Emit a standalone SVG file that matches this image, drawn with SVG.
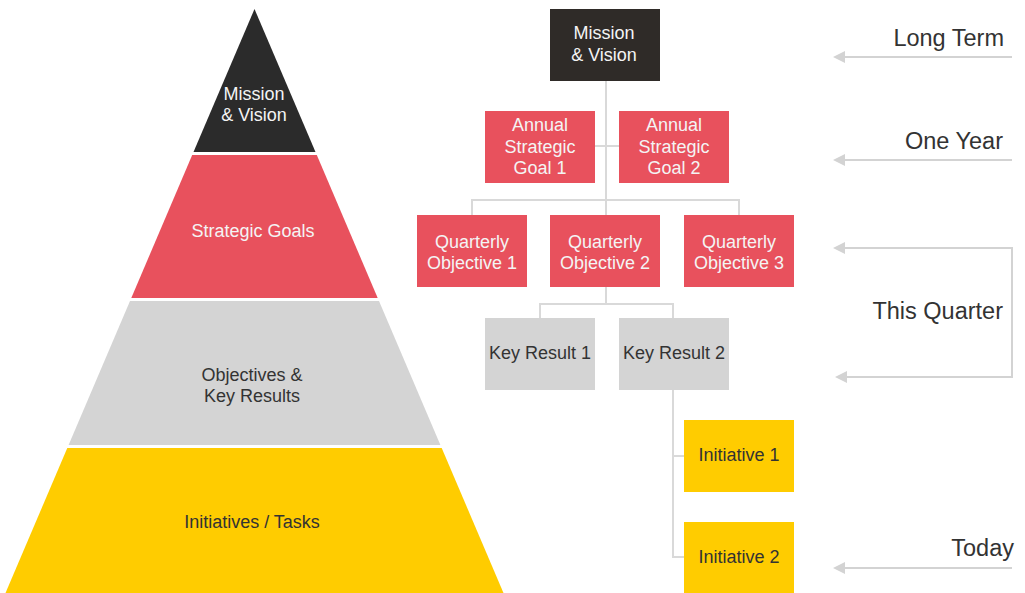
<svg xmlns="http://www.w3.org/2000/svg" width="1025" height="593" viewBox="0 0 1025 593">
  <style>
    text { font-family: "Liberation Sans", Arial, sans-serif; text-anchor: middle; dominant-baseline: central; }
    .lt { fill: #f4f4f4; font-size: 18px; }
    .dk { fill: #333333; font-size: 18px; }
    .bx { font-size: 18px; }
    .side { fill: #333333; font-size: 23.5px; text-anchor: end; }
    .red { fill: #e8515d; }
    .yel { fill: #ffcc00; }
    .gry { fill: #d4d4d4; }
    .conn { fill: none; stroke: #d9d9d9; stroke-width: 2; }
    .arr { fill: none; stroke: #d3d3d3; stroke-width: 2; }
  </style>
  <defs>
    <marker id="head" viewBox="0 0 12 12" refX="10" refY="6" markerWidth="12" markerHeight="12" markerUnits="userSpaceOnUse" orient="auto-start-reverse">
      <path d="M12,6 L0,0 L0,12 Z" fill="#d3d3d3"/>
    </marker>
  </defs>

  <!-- pyramid -->
  <g id="pyr-mission">
    <polygon points="254.5,9 315.5,152 193.5,152" fill="#2b2b2b"/>
    <text class="lt" x="254" y="94">Mission</text>
    <text class="lt" x="254" y="115">&amp; Vision</text>
  </g>
  <g id="pyr-goals">
    <polygon class="red" points="192.2,155 316.8,155 377.7,298 131.3,298"/>
    <text class="lt" x="253" y="231">Strategic Goals</text>
  </g>
  <g id="pyr-okr">
    <polygon class="gry" points="130,301 379,301 440.4,445 68.6,445"/>
    <text class="dk" x="252" y="375">Objectives &amp;</text>
    <text class="dk" x="252" y="396">Key Results</text>
  </g>
  <g id="pyr-tasks">
    <polygon class="yel" points="67.3,448 441.7,448 503.5,593 5.5,593"/>
    <text class="dk" x="252" y="522">Initiatives / Tasks</text>
  </g>

  <!-- tree connectors -->
  <g id="connectors">
    <path class="conn" d="M606,81 V215 M595,146 H619 M472,215 V200 H739 V215"/>
    <path class="conn" d="M606,287 V304 M540,318 V304 H673 V318"/>
    <path class="conn" d="M673,390 V557 H684 M673,456 H684"/>
  </g>

  <!-- tree nodes -->
  <g id="node-mission">
    <rect x="550" y="9" width="110" height="72" fill="#2f2b28"/>
    <text class="lt bx" x="604" y="33">Mission</text>
    <text class="lt bx" x="604" y="55">&amp; Vision</text>
  </g>
  <g id="node-goal1">
    <rect class="red" x="485" y="111" width="110" height="72"/>
    <text class="lt bx" x="540" y="125">Annual</text>
    <text class="lt bx" x="540" y="147">Strategic</text>
    <text class="lt bx" x="540" y="168">Goal 1</text>
  </g>
  <g id="node-goal2">
    <rect class="red" x="619" y="111" width="110" height="72"/>
    <text class="lt bx" x="674" y="125">Annual</text>
    <text class="lt bx" x="674" y="147">Strategic</text>
    <text class="lt bx" x="674" y="168">Goal 2</text>
  </g>
  <g id="node-obj1">
    <rect class="red" x="417" y="215" width="110" height="72"/>
    <text class="lt bx" x="472" y="242">Quarterly</text>
    <text class="lt bx" x="472" y="263">Objective 1</text>
  </g>
  <g id="node-obj2">
    <rect class="red" x="550" y="215" width="110" height="72"/>
    <text class="lt bx" x="605" y="242">Quarterly</text>
    <text class="lt bx" x="605" y="263">Objective 2</text>
  </g>
  <g id="node-obj3">
    <rect class="red" x="684" y="215" width="110" height="72"/>
    <text class="lt bx" x="739" y="242">Quarterly</text>
    <text class="lt bx" x="739" y="263">Objective 3</text>
  </g>
  <g id="node-kr1">
    <rect class="gry" x="485" y="318" width="110" height="72"/>
    <text class="dk bx" x="540" y="353">Key Result 1</text>
  </g>
  <g id="node-kr2">
    <rect class="gry" x="619" y="318" width="110" height="72"/>
    <text class="dk bx" x="674" y="353">Key Result 2</text>
  </g>
  <g id="node-init1">
    <rect class="yel" x="684" y="420" width="110" height="72"/>
    <text class="dk bx" x="739" y="455">Initiative 1</text>
  </g>
  <g id="node-init2">
    <rect class="yel" x="684" y="522" width="110" height="72"/>
    <text class="dk bx" x="739" y="557">Initiative 2</text>
  </g>

  <!-- time horizon labels -->
  <g id="horizons">
    <path class="arr" d="M1012,57 H835" marker-end="url(#head)"/>
    <text class="side" x="1004" y="38">Long Term</text>
    <path class="arr" d="M1012,160 H835" marker-end="url(#head)"/>
    <text class="side" x="1003" y="141">One Year</text>
    <path class="arr" d="M835,248 H1012 V377 H837" marker-start="url(#head)" marker-end="url(#head)"/>
    <text class="side" x="1003" y="311">This Quarter</text>
    <path class="arr" d="M1012,568 H835" marker-end="url(#head)"/>
    <text class="side" x="1014" y="548">Today</text>
  </g>
</svg>
